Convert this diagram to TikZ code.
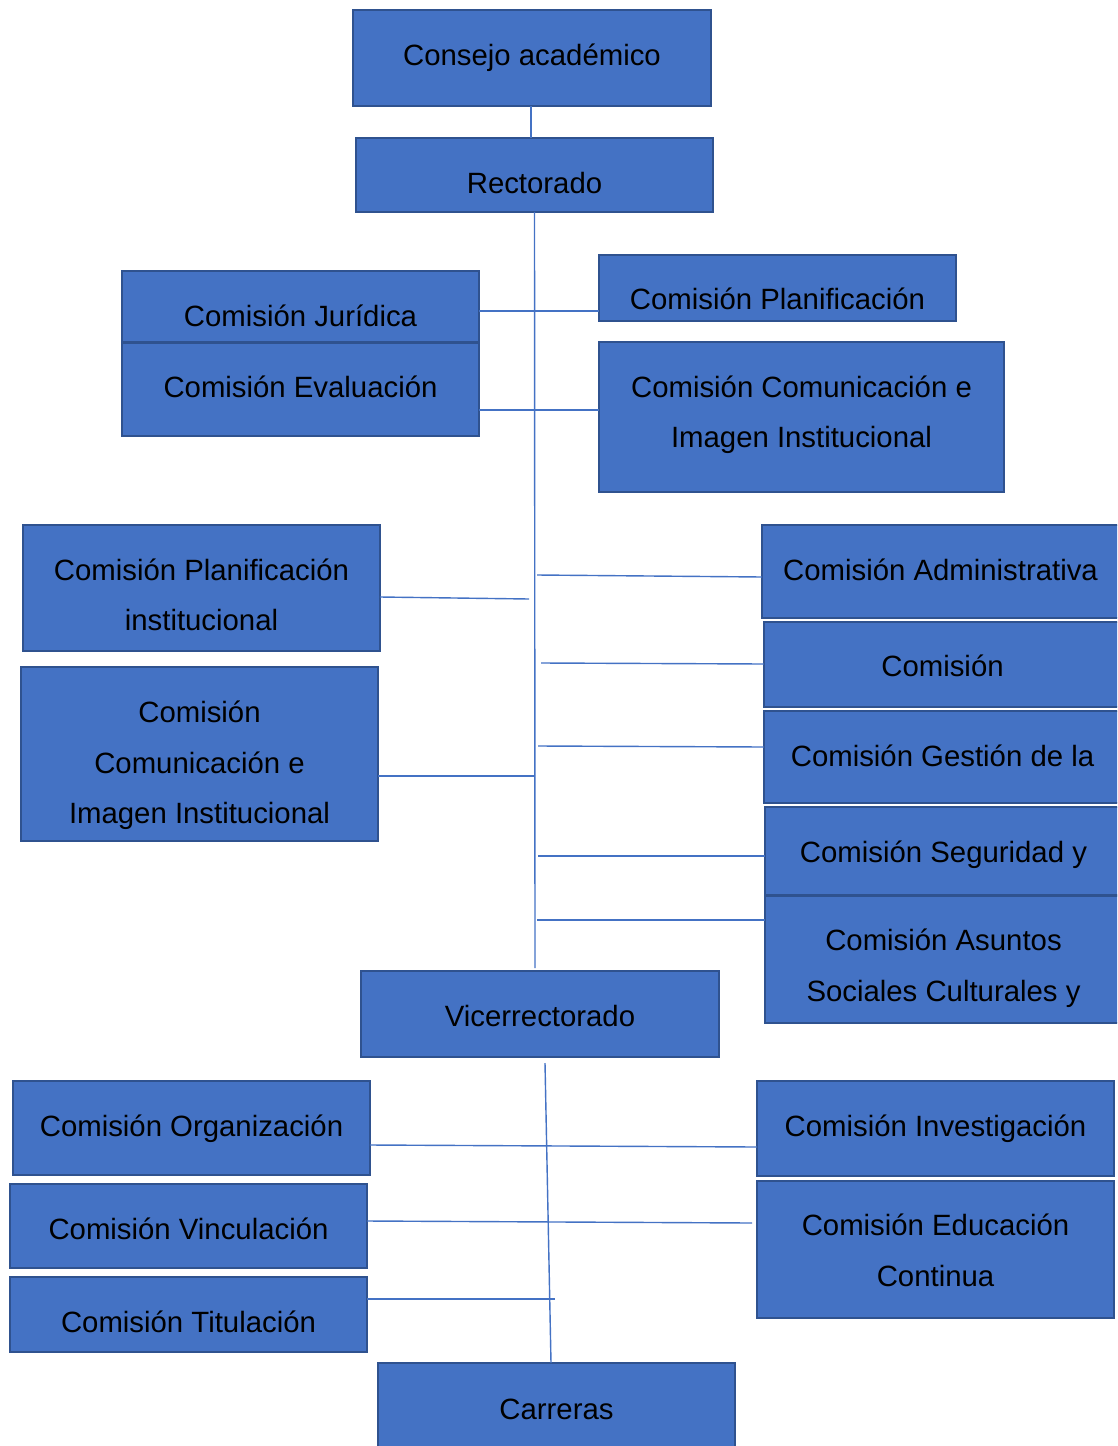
\documentclass[tikz,border=0pt]{standalone}
\usepackage{fontspec}
\setmainfont{Liberation Sans}
\usepackage{tikz}
\usetikzlibrary{calc}
\definecolor{azul}{HTML}{4472C4}
\definecolor{bordeAzul}{HTML}{2F528F}

\begin{document}
\begin{tikzpicture}[x=0.02cm, y=-0.02cm,
	caja/.style={draw=bordeAzul, fill=azul, line width=1.2pt, inner sep=0pt, outer sep=0pt,
		minimum width=7.14cm, align=center, font=\fontsize{16.7pt}{29pt}\selectfont},
	abajo/.style={text height=#1, text depth=0pt},
	linea/.style={draw=azul, line width=0.8pt}]
	\clip (0,0) rectangle (1117,1446);

	% arriba
	\node[caja, abajo=0.3cm, minimum width=7.16cm, minimum height=1.92cm] (consejo) at (532,58) {Consejo académico};
	\node[caja, abajo=0.74cm, minimum height=1.48cm] (rector) at (534.5,175) {Rectorado};

	\node[caja, abajo=0.82cm, minimum height=1.42cm] (juridica) at (300.5,306.5) {Comisión Jurídica};
	\node[caja, abajo=0.3cm, minimum height=1.86cm] (evaluacion) at (300.5,389.5) {Comisión Evaluación};
	\node[caja, abajo=0.88cm, minimum height=1.32cm] (planif) at (777.5,288) {Comisión Planificación};
	\node[caja, abajo=1.24cm, minimum width=8.1cm, minimum height=3cm] (comunicR) at (801.5,417) {Comisión Comunicación e\\Imagen Institucional};

	% izquierda
	\node[caja, abajo=1.72cm, minimum height=2.52cm] (planifInst) at (201.5,588) {Comisión Planificación\\institucional};
	\node[caja, abajo=2.8cm, minimum height=3.48cm] (comunicL) at (199.5,754) {Comisión\\Comunicación e\\Imagen Institucional};

	% derecha
	\node[caja, abajo=0.34cm, minimum height=1.86cm] (admin) at (940.5,571.5) {Comisión Administrativa};
	\node[caja, abajo=0.46cm, minimum height=1.7cm] (comision) at (942.5,664.5) {Comisión};
	\node[caja, abajo=0.36cm, minimum height=1.84cm] (gestion) at (942.5,757) {Comisión Gestión de la};
	\node[caja, abajo=0.44cm, minimum height=1.76cm] (seguridad) at (943.5,851) {Comisión Seguridad y};
	\node[caja, abajo=1.66cm, minimum height=2.54cm] (asuntos) at (943.5,959.5) {Comisión Asuntos\\Sociales Culturales y};

	% abajo
	\node[caja, abajo=0.48cm, minimum width=7.16cm, minimum height=1.72cm] (vice) at (540,1014) {Vicerrectorado};
	\node[caja, abajo=0.32cm, minimum height=1.88cm] (organiz) at (191.5,1128) {Comisión Organización};
	\node[caja, abajo=0.52cm, minimum height=1.68cm] (vincul) at (188.5,1226) {Comisión Vinculación};
	\node[caja, abajo=0.7cm, minimum height=1.5cm] (titul) at (188.5,1314.5) {Comisión Titulación};
	\node[caja, abajo=0.3cm, minimum height=1.9cm] (investig) at (935.5,1128.5) {Comisión Investigación};
	\node[caja, abajo=1.46cm, minimum height=2.74cm] (educ) at (935.5,1249.5) {Comisión Educación\\Continua};
	\node[caja, abajo=0.4cm, minimum height=1.84cm] (carreras) at (556.5,1409) {Carreras};

	% extremos sueltos de las lineas
	\coordinate (finTronco) at (535,968);
	\coordinate (finPlanif) at (529,599);
	\coordinate (finComunic) at (535,776);
	\coordinate (iniAdmin) at (537,575);
	\coordinate (iniComision) at (541,663);
	\coordinate (iniGestion) at (538,746);
	\coordinate (iniSeguridad) at (538,856);
	\coordinate (iniAsuntos) at (537,920);
	\coordinate (tronco2) at (545,1063);
	\coordinate (finTronco2) at (551,1363);
	\coordinate (finVincul) at (752,1223);
	\coordinate (finTitul) at (555,1299);

	\draw[linea] (consejo.south -| 531,0) -- (rector.north -| 531,0);
	\draw[linea] (rector.south) -- (finTronco);
	\draw[linea] (juridica.east |- 0,311) -- (planif.west |- 0,311);
	\draw[linea] (evaluacion.east |- 0,410) -- (comunicR.west |- 0,410);
	\draw[linea] (planifInst.east |- 0,597) -- (finPlanif);
	\draw[linea] (comunicL.east |- finComunic) -- (finComunic);

	\draw[linea] (iniAdmin) -- (admin.west |- 0,577);
	\draw[linea] (iniComision) -- (comision.west |- 0,664);
	\draw[linea] (iniGestion) -- (gestion.west |- 0,747);
	\draw[linea] (iniSeguridad) -- (seguridad.west |- iniSeguridad);
	\draw[linea] (iniAsuntos) -- (asuntos.west |- iniAsuntos);

	\draw[linea] (tronco2) -- (finTronco2);
	\draw[linea] (organiz.east |- 0,1145) -- (investig.west |- 0,1147);
	\draw[linea] (vincul.east |- 0,1221) -- (finVincul);
	\draw[linea] (titul.east |- finTitul) -- (finTitul);
\end{tikzpicture}
\end{document}
